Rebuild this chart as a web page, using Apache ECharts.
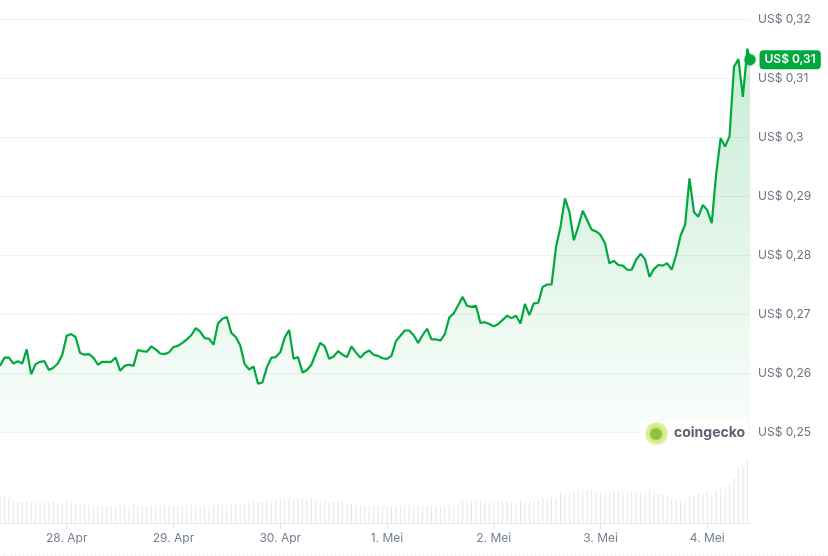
<!DOCTYPE html>
<html>
<head>
<meta charset="utf-8">
<script src="https://cdn.jsdelivr.net/npm/echarts@6/dist/echarts.min.js"></script>
<style>
html,body{margin:0;padding:0;background:#fff;}
#chart{width:828px;height:556px;}
</style>
</head>
<body>
<div id="chart"></div>
<script>
// Hours relative to 28 Apr 00:00; first hourly point is 27 Apr 09:00
const START_HOUR = -15;
const CURRENT_HOUR = 153.6;
const dayTicks = [0, 24, 48, 72, 96, 120, 144];
const dayLabels = ['28. Apr', '29. Apr', '30. Apr', '1. Mei', '2. Mei', '3. Mei', '4. Mei'];
const priceTicks = [0.25, 0.32, 0.01]; // min, max, step

const priceHourly = [
  0.2612, 0.2626, 0.2626, 0.2616, 0.2620, 0.2616, 0.2640, 0.2598, 0.2615, 0.2619,
  0.2620, 0.2605, 0.2609, 0.2616, 0.2631, 0.2663, 0.2666, 0.2661, 0.2634, 0.2631,
  0.2632, 0.2626, 0.2614, 0.2619, 0.2619, 0.2619, 0.2626, 0.2604, 0.2612, 0.2614,
  0.2612, 0.2639, 0.2637, 0.2636, 0.2645, 0.2640, 0.2633, 0.2632, 0.2635, 0.2644,
  0.2646, 0.2651, 0.2657, 0.2664, 0.2676, 0.2670, 0.2659, 0.2658, 0.2648, 0.2684,
  0.2692, 0.2695, 0.2668, 0.2661, 0.2647, 0.2615, 0.2606, 0.2611, 0.2582, 0.2584,
  0.2610, 0.2626, 0.2627, 0.2635, 0.2660, 0.2673, 0.2624, 0.2627, 0.2601, 0.2605,
  0.2614, 0.2633, 0.2651, 0.2645, 0.2624, 0.2628, 0.2637, 0.2631, 0.2627, 0.2645,
  0.2635, 0.2626, 0.2634, 0.2638, 0.2631, 0.2629, 0.2625, 0.2624, 0.2629, 0.2654,
  0.2663, 0.2672, 0.2672, 0.2664, 0.2651, 0.2664, 0.2675, 0.2657, 0.2657, 0.2655,
  0.2666, 0.2694, 0.2701, 0.2715, 0.2729, 0.2714, 0.2712, 0.2714, 0.2685, 0.2686,
  0.2683, 0.2679, 0.2683, 0.2690, 0.2697, 0.2693, 0.2697, 0.2684, 0.2717, 0.2698,
  0.2718, 0.2719, 0.2746, 0.2750, 0.2750, 0.2814, 0.2848, 0.2896, 0.2873, 0.2825,
  0.2848, 0.2875, 0.2859, 0.2843, 0.2840, 0.2834, 0.2820, 0.2786, 0.2790, 0.2783,
  0.2782, 0.2775, 0.2775, 0.2792, 0.2802, 0.2793, 0.2763, 0.2776, 0.2783, 0.2782,
  0.2786, 0.2775, 0.2800, 0.2833, 0.2851, 0.2930, 0.2873, 0.2865, 0.2885, 0.2876,
  0.2854, 0.2938, 0.2998, 0.2984, 0.3001, 0.3119, 0.3132, 0.3068, 0.3150
];
const currentPrice = 0.3131;

const volumeHourly = [
  26.7, 26.7, 26.7, 22.7, 20.7, 20.7, 20.7, 20.7, 20.7, 20.7,
  20.7, 20.7, 20.7, 20.7, 19.3, 22.3, 21.7, 19.3, 18.3, 18.7,
  18.3, 17.3, 17.3, 17.3, 16.7, 16.7, 16.7, 18.3, 17.3, 17.3,
  19.3, 17.3, 17.3, 17.3, 17.3, 17.3, 17.3, 17.3, 17.3, 16.7,
  16.7, 17.3, 18.3, 18.3, 17.3, 16.7, 16.7, 17.3, 18.3, 19.0,
  18.3, 17.3, 19.3, 19.3, 19.3, 20.0, 20.7, 22.3, 20.7, 20.0,
  23.3, 21.7, 23.3, 24.3, 24.3, 24.3, 22.7, 24.0, 25.0, 22.3,
  25.0, 23.3, 22.3, 22.3, 21.7, 21.0, 21.0, 22.3, 20.0, 19.3,
  17.3, 17.3, 17.3, 17.3, 17.3,
  17.3, 17.3, 16.7, 16.7, 16.7, 16.7, 18.3, 18.3, 16.7, 16.7,
  16.7, 16.7, 16.7, 16.7, 15.7, 16.7, 18.3, 17.7, 19.3, 21.7,
  23.3, 23.3, 21.7, 21.7, 21.7, 21.7, 21.7, 21.7, 22.3, 21.0,
  20.7, 20.7, 23.3, 21.7, 21.7, 21.7, 22.7, 25.0, 24.3, 26.0,
  25.0, 30.7, 29.3, 31.3, 31.3, 32.3, 32.3, 33.3, 33.3, 30.7,
  31.3, 31.3, 31.3, 32.3, 32.3, 32.3, 31.3, 31.3, 31.3, 31.3, 31.3,
  34.0, 30.7, 29.3, 28.3, 28.3, 24.3, 24.0, 23.3, 23.3, 26.7,
  28.3, 29.3, 29.3, 30.7, 28.3, 32.7, 34.3, 37.3, 39.3, 45.3,
  54.3, 58.3, 63.3
];

const GREEN = '#00a83e';
const FONT = 'Inter, "Noto Sans", sans-serif';

function fmtPrice(v) {
  return 'US$ ' + String(parseFloat(Number(v).toFixed(2))).replace('.', ',');
}

const priceData = priceHourly.map((v, i) => [START_HOUR + i, v]);
priceData.push([CURRENT_HOUR, currentPrice]);
const volumeData = volumeHourly.map((v, i) => [START_HOUR + i, v]);

const chart = echarts.init(document.getElementById('chart'), null, {renderer: 'canvas'});
chart.setOption({
  animation: false,
  backgroundColor: '#ffffff',
  textStyle: {fontFamily: FONT},
  grid: [
    {left: 0, right: 78, top: 19, bottom: 124},
    {left: 0, right: 78, top: 459, bottom: 33}
  ],
  xAxis: [
    {
      type: 'value', gridIndex: 0, min: START_HOUR, max: CURRENT_HOUR,
      show: false, splitLine: {show: false}
    },
    {
      type: 'value', gridIndex: 1, min: START_HOUR, max: CURRENT_HOUR,
      splitLine: {show: false},
      axisLine: {show: true, lineStyle: {color: '#e9ecf1', width: 1}},
      axisTick: {show: true, customValues: dayTicks, length: 6, lineStyle: {color: '#e4e7ec'}},
      axisLabel: {
        show: true, customValues: dayTicks, margin: 9,
        color: '#737e90', fontSize: 12, fontFamily: FONT,
        formatter: v => dayLabels[dayTicks.indexOf(Math.round(v))] || ''
      }
    }
  ],
  yAxis: [
    {
      type: 'value', gridIndex: 0, position: 'right',
      min: priceTicks[0], max: priceTicks[1], interval: priceTicks[2],
      axisLine: {show: false}, axisTick: {show: false},
      splitLine: {show: true, lineStyle: {color: '#eef0f3', width: 1}},
      axisLabel: {margin: 8, color: '#6b7383', fontSize: 12, fontFamily: FONT, formatter: fmtPrice}
    },
    {
      type: 'value', gridIndex: 1, min: 0, max: 64, show: false,
      splitLine: {show: false}
    }
  ],
  series: [
    {
      type: 'line', xAxisIndex: 0, yAxisIndex: 0,
      data: priceData, showSymbol: false, symbol: 'none',
      lineStyle: {color: GREEN, width: 2.2},
      itemStyle: {color: GREEN},
      areaStyle: {
        color: new echarts.graphic.LinearGradient(0, 0, 0, 1, [
          {offset: 0, color: 'rgba(0,168,62,0.30)'},
          {offset: 1, color: 'rgba(0,168,62,0.03)'}
        ])
      },
      markPoint: {
        symbol: 'circle', symbolSize: 11,
        itemStyle: {color: GREEN, borderColor: 'rgba(0,168,62,0.35)', borderWidth: 2},
        label: {
          show: true, position: 'right', distance: 3,
          formatter: p => fmtPrice(p.value),
          backgroundColor: GREEN, color: '#ffffff',
          padding: [4, 5, 3, 5], borderRadius: 4,
          fontSize: 12, fontWeight: 600, fontFamily: FONT
        },
        data: [{coord: [CURRENT_HOUR, currentPrice], value: currentPrice}]
      }
    },
    {
      type: 'bar', xAxisIndex: 1, yAxisIndex: 1,
      data: volumeData, barWidth: 1,
      itemStyle: {color: '#e3e7ee'}
    }
  ],
  graphic: [
    {
      type: 'rect', left: 640, top: 421, z: 50,
      shape: {width: 108, height: 26, r: 4},
      style: {fill: '#ffffff'}
    },
    {
      type: 'circle', left: 645, top: 422, z: 51, shape: {r: 11.5},
      style: {
        fill: new echarts.graphic.RadialGradient(0.5, 0.5, 0.5, [
          {offset: 0, color: '#b9dc6a'},
          {offset: 0.7, color: '#d7e88c'},
          {offset: 1, color: '#eef1b4'}
        ])
      }
    },
    {
      type: 'circle', left: 650, top: 428, z: 52, shape: {r: 6},
      style: {fill: '#8cc43f'}
    },
    {
      type: 'text', left: 674, top: 426, z: 52,
      style: {text: 'coingecko', fill: '#5b6270', font: 'bold 14px ' + FONT}
    },
    {
      type: 'line', left: 0, top: 553,
      shape: {x1: 0, y1: 0, x2: 828, y2: 0},
      style: {stroke: '#eceef2', lineWidth: 1, lineDash: [2, 2]}
    }
  ]
});
</script>
</body>
</html>
